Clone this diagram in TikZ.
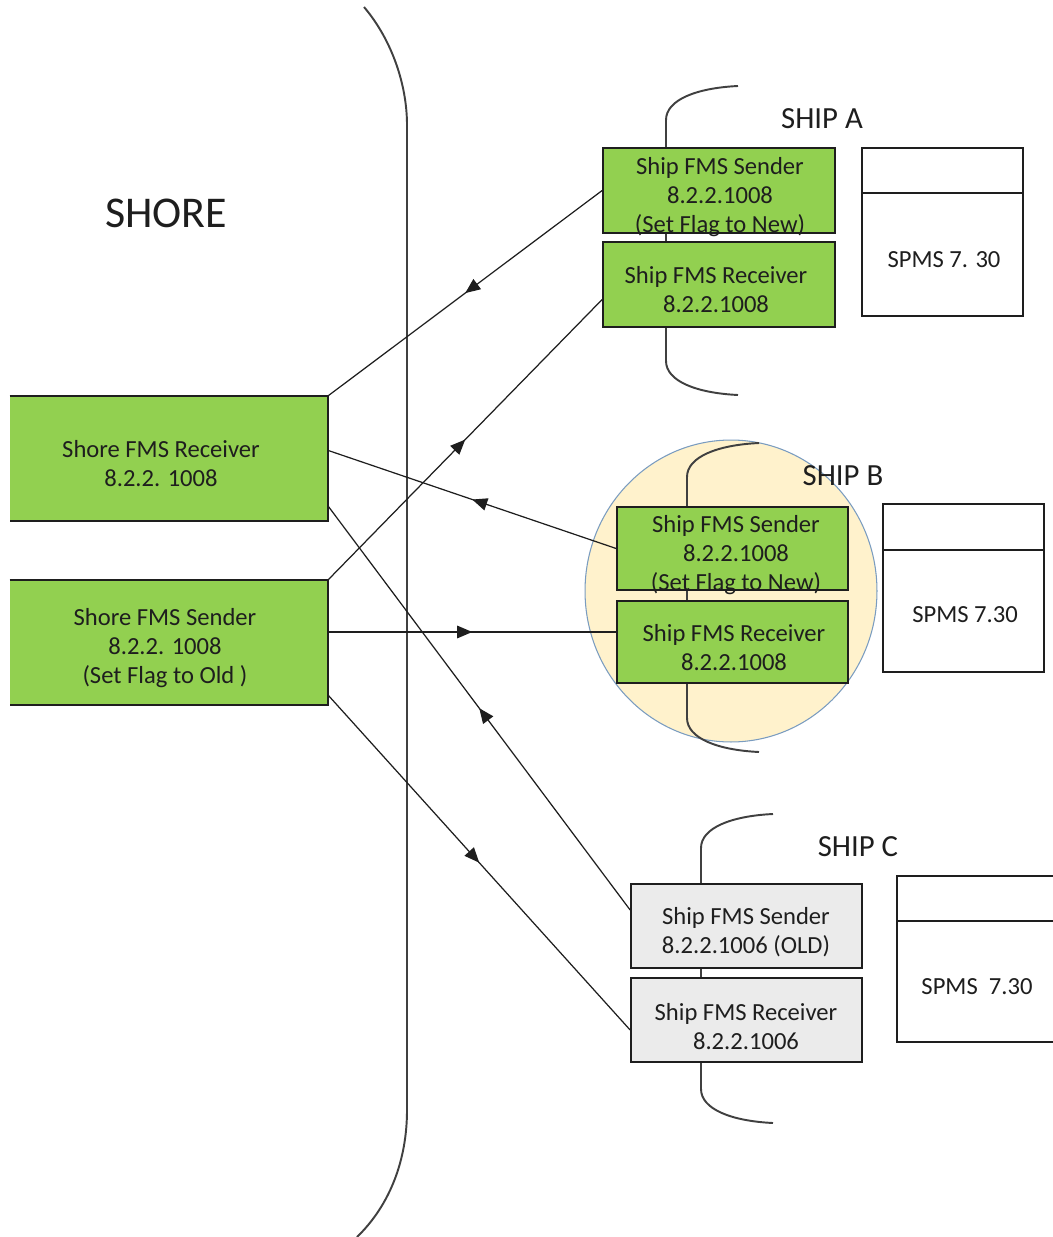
\documentclass[tikz,border=0pt]{standalone}
\usepackage{fontspec}
\setmainfont{Carlito}
\usetikzlibrary{arrows.meta,decorations.markings,calc}
\definecolor{fmsgreen}{HTML}{92D050}
\definecolor{oldgrey}{HTML}{EBEBEB}
\definecolor{shipzone}{HTML}{FFF2CC}
\definecolor{zoneedge}{HTML}{7A9CC0}
\definecolor{ink}{HTML}{1E1E1E}
\begin{document}
\begin{tikzpicture}[x=0.02cm,y=-0.02cm,
  every node/.style={text=ink},
  boxtxt/.style={align=center, font=\fontsize{14}{16.5}\selectfont, inner sep=0pt},
  edge/.style={draw=ink, line width=1pt},
  fmsbox/.style={edge, fill=fmsgreen, minimum width=4.64cm, minimum height=1.7cm, inner sep=0pt},
  oldbox/.style={fmsbox, fill=oldgrey},
  shorebox/.style={fill=fmsgreen, minimum width=6.36cm, minimum height=2.5cm, inner sep=0pt},
  spmsbox/.style={edge, fill=white, minimum width=3.22cm, minimum height=3.36cm, inner sep=0pt},
  link/.style={draw=ink, line width=0.7pt, postaction={decorate},
    decoration={markings, mark=at position 0.5 with {\arrow{Triangle[length=3mm,width=2.5mm]}}}},
  brace/.style={draw=ink!85, line width=1.1pt},
  title/.style={font=\fontsize{17.5}{20}\selectfont, inner sep=0pt},
  shipbrace/.pic={
    \draw[brace] (72,0) .. controls (30,2) and (0,14) .. (0,34) -- (0,275)
      .. controls (0,295) and (30,307) .. (72,309);
  }
]
\useasboundingbox (0,0) rectangle (1053,1237);

% shore boundary
\draw[brace] (364,7) .. controls (392,40) and (407,85) .. (407,125) -- (407,1110)
  .. controls (407,1160) and (390,1205) .. (357,1237);
\node[font=\fontsize{25}{30}\selectfont, inner sep=0pt] (shore) at (166,213) {SHORE};

% highlighted ship
\draw[fill=shipzone, draw=zoneedge, line width=0.6pt] (731,591) ellipse [x radius=2.92cm, y radius=3.02cm];

% ship hull brackets
\pic at (666,86) {shipbrace};
\pic at (687,443) {shipbrace};
\pic at (701,814) {shipbrace};

% shore boxes
\node[shorebox] (shr) at (169,458.5) {};
\draw[edge] (shr.north west) -- (shr.north east) -- (shr.south east) -- (shr.south west);
\node[shorebox] (shs) at (169,642.5) {};
\draw[edge] (shs.north west) -- (shs.north east) -- (shs.south east) -- (shs.south west);

% ship boxes
\node[fmsbox] (sa) at (719,190.5) {};
\node[fmsbox] (sar) at (719,284.5) {};
\node[fmsbox, minimum width=4.62cm, minimum height=1.66cm] (sb) at (732.5,548.5) {};
\node[fmsbox, minimum width=4.62cm, minimum height=1.64cm] (sbr) at (732.5,642) {};
\node[oldbox, minimum width=4.62cm, minimum height=1.68cm] (sc) at (746.5,926) {};
\node[oldbox, minimum width=4.62cm, minimum height=1.68cm] (scr) at (746.5,1020) {};

% SPMS boxes
\node[spmsbox] (spa) at (942.5,232) {};
\draw[edge] ($(spa.north west)+(0,46)$) -- ($(spa.north east)+(0,46)$);
\node[spmsbox] (spb) at (963.5,588) {};
\draw[edge] ($(spb.north west)+(0,47)$) -- ($(spb.north east)+(0,47)$);
\node[spmsbox, minimum width=3.28cm, minimum height=3.32cm] (spc) at (979,959) {};
\draw[edge] ($(spc.north west)+(0,46)$) -- ($(spc.north east)+(0,46)$);

% message flows
\draw[link] (sa.west) -- (shr.north east);
\draw[link] (shs.north east) -- ($(sar.west)+(0,15)$);
\draw[link] (sb.west) -- ($(shr.east)+(0,-8)$);
\draw[link] ($(shs.east)+(0,-10.5)$) -- ($(sbr.west)+(0,-10)$);
\draw[link] ($(sc.west)+(0,-16)$) -- ($(shr.south east)+(0,-15)$);
\draw[link] ($(shs.south east)+(0,-10)$) -- ($(scr.west)+(0,10)$);

% texts
\node[boxtxt] at (161,464) {Shore FMS Receiver\\8.2.2. 1008};
\node[boxtxt] at (165,648) {Shore FMS Sender\\8.2.2. 1008\\(Set Flag to Old )};
\node[boxtxt] at (720,197) {Ship FMS Sender\\8.2.2.1008\\(Set Flag to New)};
\node[boxtxt] at (716,290) {Ship FMS Receiver\\8.2.2.1008};
\node[boxtxt] at (736,555) {Ship FMS Sender\\8.2.2.1008\\(Set Flag to New)};
\node[boxtxt] at (734,648) {Ship FMS Receiver\\8.2.2.1008};
\node[boxtxt] at (746,932.5) {Ship FMS Sender\\8.2.2.1006 (OLD)};
\node[boxtxt] at (746,1027) {Ship FMS Receiver\\8.2.2.1006};
\node[boxtxt] at (944,260) {SPMS 7. 30};
\node[boxtxt] at (965,615) {SPMS 7.30};
\node[boxtxt] at (977,987) {SPMS\ \ 7.30};

\node[title] at (822,119) {SHIP A};
\node[title] at (843,476) {SHIP B};
\node[title] at (858,847) {SHIP C};
\end{tikzpicture}
\end{document}
